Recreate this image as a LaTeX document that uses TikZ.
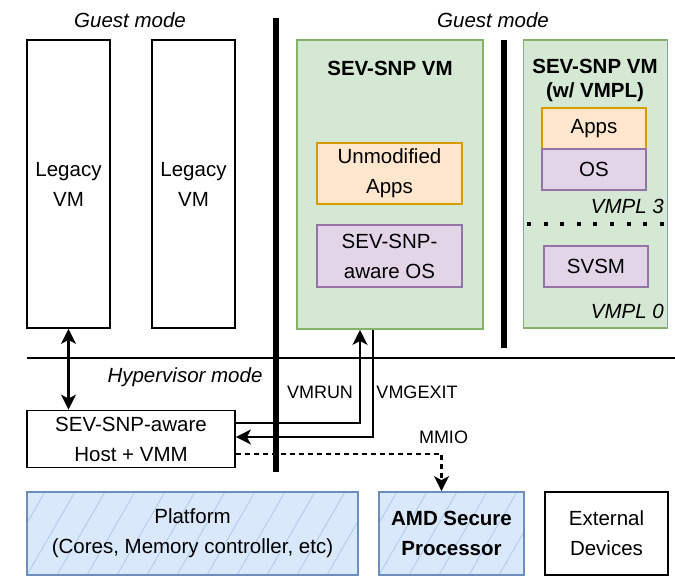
\documentclass[tikz,border=0pt]{standalone}
\usepackage{fontspec}
\setmainfont{Liberation Sans}
\usetikzlibrary{arrows.meta}

\definecolor{greenfill}{HTML}{D5E8D4}
\definecolor{greenline}{HTML}{82B366}
\definecolor{orangefill}{HTML}{FFE6CC}
\definecolor{orangeline}{HTML}{D79B00}
\definecolor{purplefill}{HTML}{E1D5E7}
\definecolor{purpleline}{HTML}{9673A6}
\definecolor{bluefill}{HTML}{DAE8FC}
\definecolor{blueline}{HTML}{6C8EBF}
\definecolor{bluehatch}{HTML}{AFC8EE}

\tikzset{
    txt/.style={font=\fontsize{20.5}{30}\selectfont, align=center, inner sep=0pt},
    smalltxt/.style={font=\fontsize{18}{22}\selectfont, inner sep=0pt},
    box/.style={draw, rectangle, line width=1.8pt, txt},
    vmbox/.style={box, draw=greenline, fill=greenfill},
    appbox/.style={box, draw=orangeline, fill=orangefill},
    osbox/.style={box, draw=purpleline, fill=purplefill},
    hwbox/.style={box, draw=blueline, fill=bluefill,
        path picture={
            \foreach \k in {-4,...,14}
                \draw[bluehatch, line width=0.8pt] ([xshift=\k*30pt]path picture bounding box.south west) -- ++(60:220pt);
        }},
    wall/.style={line width=6pt},
    flow/.style={line width=2.2pt, -{Stealth[length=15pt, width=15pt, inset=4pt]}},
    flowboth/.style={line width=2.2pt, {Stealth[length=15pt, width=15pt, inset=4pt]}-{Stealth[length=15pt, width=15pt, inset=4pt]}},
}

\begin{document}
\begin{tikzpicture}[x=1pt, y=-1pt]
    \useasboundingbox (0,0) rectangle (675,581);

    % guest side
    \node[txt, font=\fontsize{20.5}{30}\selectfont\itshape] (guestL) at (130,20) {Guest mode};
    \node[txt, font=\fontsize{20.5}{30}\selectfont\itshape] (guestR) at (493,20) {Guest mode};

    \node[box, minimum width=83pt, minimum height=288pt] (legacyA) at (68.5,184) {Legacy\\VM};
    \node[box, minimum width=83pt, minimum height=288pt] (legacyB) at (193.5,184) {Legacy\\VM};

    \node[vmbox, minimum width=186pt, minimum height=289pt] (snpvm) at (390,184.5) {};
    \node[txt, font=\fontsize{20.5}{30}\selectfont\bfseries] (snptitle) at (390,68) {SEV-SNP VM};
    \node[appbox, minimum width=145pt, minimum height=61pt] (apps) at (389.5,173.5) {Unmodified\\Apps};
    \node[osbox, minimum width=145pt, minimum height=62pt] (snpos) at (389.5,256) {SEV-SNP-\\aware OS};

    \node[vmbox, minimum width=144pt, minimum height=288pt] (vmplvm) at (595.5,184) {};
    \node[txt, font=\fontsize{20.5}{24}\selectfont\bfseries] (vmpltitle) at (595,80) {SEV-SNP VM\\(w/ VMPL)};
    \node[appbox, minimum width=104pt, minimum height=41pt] (apps2) at (594,128.5) {Apps};
    \node[osbox, minimum width=104pt, minimum height=41pt] (os2) at (594,169.5) {OS};
    \node[txt, font=\fontsize{20.5}{30}\selectfont\itshape, anchor=east] (vmpl3) at (664,206) {VMPL 3};
    \coordinate (dotL) at (527,224);
    \coordinate (dotR) at (665,224);
    \draw[line width=4pt, dash pattern=on 4pt off 12.6pt] (dotL) -- (dotR);
    \node[osbox, minimum width=104pt, minimum height=41pt] (svsm) at (596,266.5) {SVSM};
    \node[txt, font=\fontsize{20.5}{30}\selectfont\itshape, anchor=east] (vmpl0) at (664,311) {VMPL 0};

    % separators
    \coordinate (wallAtop) at (276,18);
    \coordinate (wallAbot) at (276,472);
    \coordinate (wallBtop) at (503.5,40);
    \coordinate (wallBbot) at (503.5,348);
    \coordinate (modeL) at (27,358);
    \coordinate (modeR) at (675,358);
    \draw[line width=2pt] (modeL) -- (modeR);
    \draw[wall] (wallAtop) -- (wallAbot);
    \draw[wall] (wallBtop) -- (wallBbot);

    % hypervisor side
    \node[txt, font=\fontsize{20.5}{30}\selectfont\itshape] (hvmode) at (185,377) {Hypervisor mode};
    \node[box, fill=white, minimum width=208pt, minimum height=57pt] (host) at (131,439) {SEV-SNP-aware\\Host + VMM};
    \node[smalltxt] (vmrun) at (320,392) {VMRUN};
    \node[smalltxt] (vmgexit) at (417,392) {VMGEXIT};
    \node[smalltxt] (mmio) at (443.5,437) {MMIO};

    \node[hwbox, minimum width=331pt, minimum height=83pt] (platform) at (192.5,533.5) {Platform\\(Cores, Memory controller, etc)};
    \node[hwbox, minimum width=145pt, minimum height=83pt, font=\fontsize{20.5}{30}\selectfont\bfseries] (amdsp) at (451.5,533.5) {AMD Secure\\Processor};
    \node[box, minimum width=123pt, minimum height=83pt] (extdev) at (606.5,533.5) {External\\Devices};

    % connectors
    \draw[flowboth] (legacyA.south) -- (legacyA.south |- host.north);
    \draw[flow] ([yshift=16pt]host.east) -| ([xshift=-30pt]snpvm.south);
    \draw[flow] ([xshift=-17pt]snpvm.south) |- ([yshift=2pt]host.east);
    \draw[flow, dash pattern=on 5pt off 4pt] ([yshift=-15pt]host.east) -| ([xshift=-10pt]amdsp.north);
\end{tikzpicture}
\end{document}
